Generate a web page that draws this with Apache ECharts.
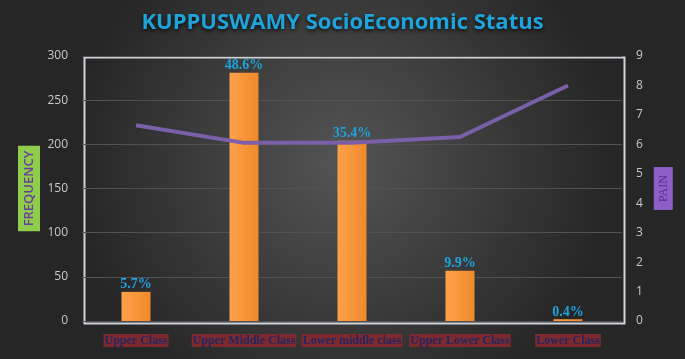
<!DOCTYPE html>
<html>
<head>
<meta charset="utf-8">
<script src="https://cdn.jsdelivr.net/npm/echarts@6/dist/echarts.min.js"></script>
<style>
html,body{margin:0;padding:0;background:#2b2b2b;}
#chart{width:685px;height:359px;}
</style>
</head>
<body>
<div id="chart"></div>
<script>
// socioeconomic classes
const categories = ['Upper Class', 'Upper Middle Class', 'Lower middle class', 'Upper Lower Class', 'Lower Class'];
const frequency = [33, 281, 204, 57, 2];
const percentLabels = ['5.7%', '48.6%', '35.4%', '9.9%', '0.4%'];
const pain = [6.65, 6.05, 6.05, 6.25, 8.0];

const chart = echarts.init(document.getElementById('chart'));

chart.setOption({
    backgroundColor: {
        type: 'radial', x: 0.5, y: 0.45, r: 0.75,
        colorStops: [
            {offset: 0, color: '#545454'},
            {offset: 1, color: '#262626'}
        ]
    },
    title: {
        text: 'KUPPUSWAMY SocioEconomic Status',
        left: 'center',
        top: 7,
        textStyle: {
            color: '#1ea3db',
            fontSize: 22,
            fontWeight: 'bold',
            fontFamily: 'Open Sans',
            textShadowColor: 'rgba(0,0,0,0.8)',
            textShadowBlur: 4,
            textShadowOffsetY: 2
        }
    },
    grid: {left: 82, right: 63, top: 56, bottom: 38},
    xAxis: {
        type: 'category',
        data: categories,
        axisTick: {show: false},
        axisLine: {show: false},
        axisLabel: {
            color: '#24245e',
            fontFamily: 'Liberation Serif',
            fontWeight: 'bold',
            fontSize: 12,
            backgroundColor: '#7d2a2e',
            padding: [1, 1, 0, 1],
            margin: 13,
            interval: 0
        }
    },
    yAxis: [{
        type: 'value',
        min: 0, max: 300, interval: 50,
        name: 'FREQUENCY',
        nameLocation: 'middle',
        nameRotate: 90,
        nameGap: 42,
        nameMoveOverlap: false,
        nameTextStyle: {
            color: '#6a3d9a',
            backgroundColor: '#8fce4a',
            fontSize: 13,
            fontWeight: 600,
            fontFamily: 'Open Sans',
            padding: [5, 5, 4, 5]
        },
        axisLine: {show: false},
        axisLabel: {color: '#c8c8c8', fontSize: 12, fontFamily: 'Open Sans', margin: 14},
        splitLine: {lineStyle: {color: '#525252', width: 1}}
    }, {
        type: 'value',
        min: 0, max: 9, interval: 1,
        name: 'PAIN',
        nameLocation: 'middle',
        nameRotate: 90,
        nameGap: 30,
        nameTextStyle: {
            color: '#5b2d8e',
            backgroundColor: '#8e5fc7',
            fontSize: 12,
            fontFamily: 'Liberation Serif',
            padding: [4, 8, 3, 8]
        },
        axisLine: {show: false},
        axisLabel: {color: '#c8c8c8', fontSize: 12, fontFamily: 'Open Sans', margin: 14},
        splitLine: {show: false}
    }],
    series: [{
        type: 'bar',
        data: frequency,
        barWidth: 29,
        itemStyle: {
            color: {
                type: 'linear', x: 0, y: 0, x2: 1, y2: 0,
                colorStops: [
                    {offset: 0, color: '#ffa04a'},
                    {offset: 1, color: '#ef8a2a'}
                ]
            }
        },
        label: {
            show: true,
            position: 'top',
            distance: 0,
            formatter: p => percentLabels[p.dataIndex],
            color: '#1ea3db',
            fontFamily: 'Liberation Serif',
            fontWeight: 'bold',
            fontSize: 14
        }
    }, {
        type: 'line',
        yAxisIndex: 1,
        data: pain,
        symbol: 'none',
        lineStyle: {color: '#7b5fa8', width: 4}
    }],
    graphic: [{
        type: 'rect',
        left: 82, top: 55,
        shape: {width: 540, height: 266},
        style: {fill: 'none', stroke: '#d0d4da', lineWidth: 2},
        silent: true
    }]
});
</script>
</body>
</html>
